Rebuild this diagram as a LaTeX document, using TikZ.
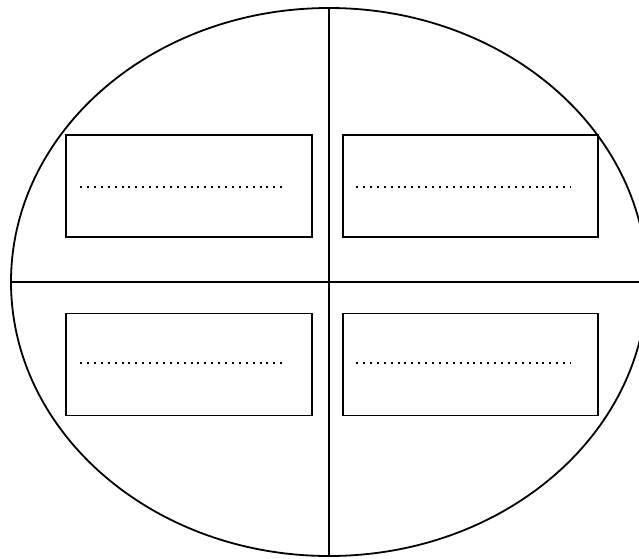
\documentclass[tikz,border=0pt]{standalone}
\usetikzlibrary{shapes.geometric}
\begin{document}
\begin{tikzpicture}[x=1pt,y=-1pt,
  oval/.style={draw=black,line width=1.8pt,ellipse,inner sep=0pt,minimum width=636pt,minimum height=548pt},
  slot/.style={draw=black,line width=1.8pt,rectangle,inner sep=0pt,minimum width=246pt,minimum height=102pt,fill=white},
  wideslot/.style={slot,minimum width=255pt},
  axis/.style={draw=black,line width=1.5pt},
  leader/.style={draw=black,line width=2.1pt,dash pattern=on 2pt off 4.9pt}]
\useasboundingbox (0,0) rectangle (639,558);
\clip (0,0) rectangle (639,558);
\node[oval] (E) at (329,282) {};
\draw[axis] (E.north) -- (E.south);
\draw[axis] (E.west) -- (E.east);
\node[slot] (tl) at (189,186) {};
\node[wideslot] (tr) at (470.5,186) {};
\node[slot] (bl) at (189,364.5) {};
\node[wideslot] (br) at (470.5,364.5) {};
\coordinate (tla) at ([xshift=15pt,yshift=-1pt]tl.west);
\coordinate (tlb) at ([xshift=-27pt,yshift=-1pt]tl.east);
\coordinate (tra) at ([xshift=14pt,yshift=-1pt]tr.west);
\coordinate (trb) at ([xshift=-28pt,yshift=-1pt]tr.east);
\coordinate (bla) at ([xshift=15pt,yshift=1.5pt]bl.west);
\coordinate (blb) at ([xshift=-27pt,yshift=1.5pt]bl.east);
\coordinate (bra) at ([xshift=14pt,yshift=1.5pt]br.west);
\coordinate (brb) at ([xshift=-28pt,yshift=1.5pt]br.east);
\draw[leader] (tla) -- (tlb);
\draw[leader] (bla) -- (blb);
\draw[leader] (tra) -- (trb);
\draw[leader] (bra) -- (brb);
\end{tikzpicture}
\end{document}
